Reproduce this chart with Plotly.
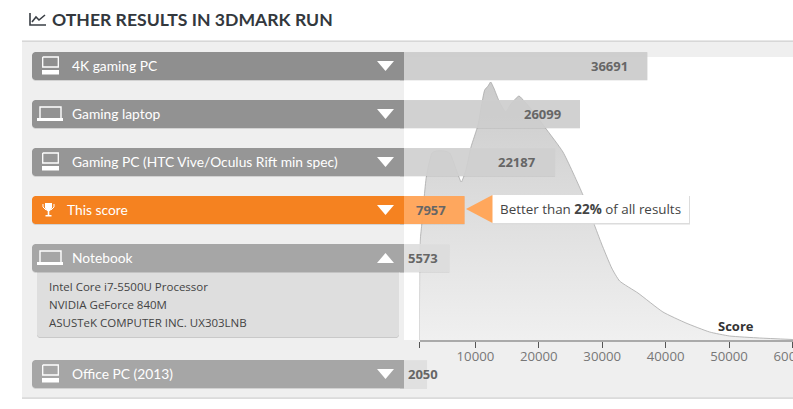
import plotly.graph_objects as go

W, H = 793, 409

# results
names = ["4K gaming PC", "Gaming laptop", "Gaming PC (HTC Vive/Oculus Rift min spec)",
         "This score", "Notebook", "Office PC (2013)"]
scores = [36691, 26099, 22187, 7957, 5573, 2050]
specs = ["Intel Core i7-5500U Processor", "NVIDIA GeForce 840M", "ASUSTeK COMPUTER INC. UX303LNB"]

# distribution curve
curve_score = [1180, 1262, 1530, 2255, 3154, 3800, 5100, 5946, 7000, 7775, 8500, 9305, 10410, 11465,
               12000, 12410, 12900, 13800, 14775, 15600, 16875, 17800, 19200, 20930, 23810, 26970,
               29850, 31500, 32750, 35640, 39580, 43210, 46950, 50100, 54830, 60080]
curve_density = [0, 97, 115, 163, 187, 189, 189, 187, 170, 158, 170, 193, 215, 250,
                 254, 258, 252, 238, 228, 236, 244, 238, 228, 213, 188, 145,
                 97, 72, 59, 47, 28, 17, 8, 4, 2, 0.5]

tick_vals = [1180, 10000, 20000, 30000, 40000, 50000, 60000]
tick_text = ["", "10000", "20000", "30000", "40000", "50000", "60000"]

# layout of the rows, in page pixels
row_y = [66, 114, 162, 210, 258, 374]
head_col = ["#8f8f8f", "#929292", "#969696", "#f58220", "#a6a6a6", "#a6a6a6"]
val_col = ["rgba(204,204,204,0.92)", "rgba(206,206,206,0.92)", "rgba(208,208,208,0.92)",
           "rgba(255,165,90,0.97)", "rgba(222,222,222,0.9)", "rgba(224,224,224,0.9)"]
val_right = [628, 561, 536, 446, 438, 438]
icons = ["pc", "laptop", "pc", "cup", "laptop", "pc"]

BAR_ZERO, BAR_SLOPE = 414, 0.00636
bar_base = (400 - BAR_ZERO) / BAR_SLOPE


def px(x):
    return x / W


def py(y):
    return 1 - y / H


def path(pts, close=True):
    d = "M" + " L".join(f"{px(x):.5f},{py(y):.5f}" for x, y in pts)
    return d + (" Z" if close else "")


shapes = []


def rect(x0, y0, x1, y1, col, layer="above"):
    shapes.append(dict(type="rect", xref="paper", yref="paper", x0=px(x0), x1=px(x1), y0=py(y1), y1=py(y0),
                       fillcolor=col, line_width=0, layer=layer))


def poly(pts, col, layer="above"):
    shapes.append(dict(type="path", xref="paper", yref="paper", path=path(pts), fillcolor=col,
                       line_width=0, layer=layer))


def stroke(pts, col, w=1.3, layer="above"):
    shapes.append(dict(type="path", xref="paper", yref="paper", path=path(pts, False),
                       line=dict(color=col, width=w), layer=layer))


def rounded_left(x0, y0, x1, y1, col, r=3):
    poly([(x0 + r, y0), (x1, y0), (x1, y1), (x0 + r, y1), (x0 + 1, y1 - 1), (x0, y1 - r), (x0, y0 + r), (x0 + 1, y0 + 1)], col)


# page panels
rect(22, 41, W, 398, "#efefef", "below")
rect(404, 57, W, 340, "#ffffff", "below")
rect(22, 40.5, W, 41.8, "#cfcfcf", "below")
rect(22, 397.6, W, 398.8, "#cfcfcf", "below")

# title icon
stroke([(30, 13), (30, 25), (46, 25)], "#3a3f45", 1.6)
stroke([(32, 22), (36, 17), (39, 20), (45, 15)], "#3a3f45", 1.6)

# details of the expanded row
poly([(37, 272), (399, 272), (399, 336), (397, 338), (39, 338), (37, 336)], "#c9c9c9")
poly([(37, 272), (399, 272), (399, 335), (397, 337), (39, 337), (37, 335)], "#dedede")

# tooltip
rect(492, 196, 690, 224.5, "#dcdcdc")
rect(492, 195, 689, 223, "#ffffff")
poly([(466, 209), (492.5, 195), (492.5, 223)], "#ffa75c")

for i, y in enumerate(row_y):
    rounded_left(32, y - 13, 404, y + 15, "rgba(0,0,0,0.12)")
    rounded_left(32, y - 14, 404, y + 14, head_col[i])
    if i == 4:
        poly([(377, y + 5), (385.5, y - 5), (394, y + 5)], "#ffffff")
    else:
        poly([(377, y - 5), (394, y - 5), (385.5, y + 5)], "#ffffff")
    kind = icons[i]
    if kind == "pc":
        stroke([(42.7, y - 9), (58.3, y - 9), (58.3, y + 1), (42.7, y + 1), (42.7, y - 9)], "#ffffff", 1.3)
        rect(42, y + 4, 59, y + 8.5, "#ffffff")
    elif kind == "laptop":
        stroke([(40, y + 4), (40, y - 7), (61, y - 7), (61, y + 4)], "#ffffff", 1.4)
        rect(37, y + 4, 63, y + 7, "#ffffff")
    else:
        stroke([(43, y - 6), (43, y - 3), (46, y)], "#ffffff", 1)
        stroke([(54, y - 6), (54, y - 3), (51, y)], "#ffffff", 1)
        poly([(45, y - 7), (52, y - 7), (52, y - 2), (50, y + 1), (47, y + 1), (45, y - 2)], "#ffffff")
        rect(47.7, y, 49.3, y + 5, "#ffffff")
        rect(45.5, y + 5, 51.5, y + 6.5, "#ffffff")

fig = go.Figure()

# distribution
fig.add_trace(go.Scatter(
    x=curve_score, y=curve_density, mode="lines", fill="tozeroy",
    line=dict(color="#a8a8a8", width=0.8, shape="spline", smoothing=0.5),
    fillgradient=dict(type="vertical", colorscale=[[0, "#f0f0f0"], [0.5, "#dedede"], [1, "#cbcbcb"]]),
    hoverinfo="skip", showlegend=False, xaxis="x", yaxis="y"))

# result bars on the page-wide axes
fig.add_trace(go.Bar(
    x=[s - bar_base for s in scores], y=[y + 1 for y in row_y], base=bar_base, width=28, orientation="h",
    marker=dict(color="rgba(0,0,0,0.06)", line_width=0),
    hoverinfo="skip", showlegend=False, xaxis="x2", yaxis="y2"))
fig.add_trace(go.Bar(
    x=[s - bar_base for s in scores], y=row_y, base=bar_base, width=28, orientation="h",
    marker=dict(color=val_col, line_width=0),
    hoverinfo="skip", showlegend=False, xaxis="x2", yaxis="y2"))

annos = []


def text(x, y, s, size, col, family="Open Sans", anchor="left"):
    annos.append(dict(xref="paper", yref="paper", x=px(x), y=py(y), text=s, showarrow=False,
                      xanchor=anchor, yanchor="middle", font=dict(family=family, size=size, color=col),
                      borderpad=0, borderwidth=0))


text(52, 19.5, "<b>OTHER RESULTS IN 3DMARK RUN</b>", 17.6, "#33383d", "Lato")
for i, y in enumerate(row_y):
    text(67 if icons[i] == "cup" else 72, y - 0.5, names[i], 13.8, "#ffffff", "Lato")
    text(val_right[i], y, f"<b>{scores[i]}</b>", 13, "#666666", anchor="right")
for y, s in zip([286.5, 304.5, 322.5], specs):
    text(49, y, s, 11.5, "#444444")
text(499.5, 208.5, "Better than <b>22%</b> of all results", 13.4, "#444444")
text(754, 325.5, "<b>Score</b>", 13, "#333333", anchor="right")

TICK_ZERO, TICK_SLOPE = 412, 0.00634
fig.update_layout(
    width=W, height=H, autosize=False, margin=dict(l=0, r=0, t=0, b=0),
    paper_bgcolor="#ffffff", plot_bgcolor="rgba(0,0,0,0)", barmode="overlay",
    shapes=shapes, annotations=annos,
    xaxis=dict(domain=[px(419.5), 1], anchor="y", automargin=False,
               range=[(419.5 - TICK_ZERO) / TICK_SLOPE, (W - TICK_ZERO) / TICK_SLOPE],
               tickmode="array", tickvals=tick_vals, ticktext=tick_text,
               showgrid=False, zeroline=False, showline=True, linecolor="#aaaaaa", linewidth=1.5,
               ticks="outside", ticklen=6, tickwidth=1, tickcolor="#555555", ticklabelstandoff=-3,
               ticklabeloverflow="allow",
               tickfont=dict(family="Open Sans", size=13.2, color="#777777")),
    yaxis=dict(domain=[py(340), py(57)], anchor="x", range=[0, 283], visible=False),
    xaxis2=dict(domain=[0, 1], anchor="y2", range=[-BAR_ZERO / BAR_SLOPE, (W - BAR_ZERO) / BAR_SLOPE], visible=False),
    yaxis2=dict(domain=[0, 1], anchor="x2", range=[H, 0], visible=False),
)

# the default page margin would push the chart 8px down and right
fig.write_html("out.html", config=dict(displayModeBar=False),
               post_script="document.body.style.margin='0';")
